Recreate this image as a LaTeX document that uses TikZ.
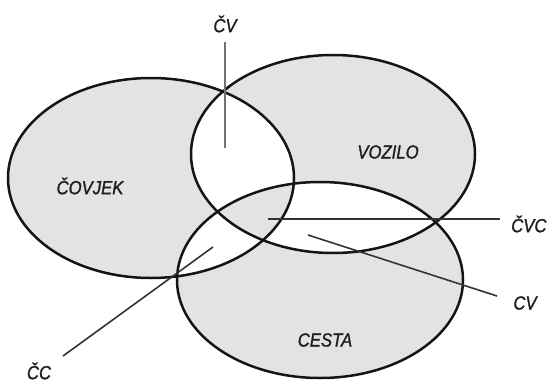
\documentclass[tikz,border=0pt]{standalone}
\usepackage{fontspec}
\setmainfont{Liberation Sans}
\newfontfamily\lblfont[FakeBold=1.3, FakeStretch=0.88]{Liberation Sans}
\begin{document}
\begin{tikzpicture}[x=1pt,y=-1pt,
  setfill/.style={fill=black!11, even odd rule},
  setline/.style={draw=black!92, line width=2.5pt},
  leader/.style={draw=black!80, line width=1.6pt},
  lbl/.style={font=\lblfont\fontsize{19}{19}\selectfont\itshape, text=black!88, inner sep=0pt}]
\useasboundingbox (0,0) rectangle (553,385);
% regions: gray where an odd number of sets overlap
\path[setfill] (151,178) ellipse [x radius=143, y radius=100]
               (333,154) ellipse [x radius=142, y radius=99]
               (320,280) ellipse [x radius=143, y radius=98];
\draw[setline] (151,178) ellipse [x radius=143, y radius=100];
\draw[setline] (333,154) ellipse [x radius=142, y radius=99];
\draw[setline] (320,280) ellipse [x radius=143, y radius=98];
% set labels
\node[lbl] (covjek) at (90,186) {ČOVJEK};
\node[lbl] (vozilo) at (388,152) {VOZILO};
\node[lbl] (cesta) at (325,340) {CESTA};
% intersection labels
\node[lbl] (cv) at (225,24) {ČV};
\node[lbl, anchor=west] (cvc) at (511,224) {ČVC};
\node[lbl] (cvb) at (525,303) {CV};
\node[lbl] (cc) at (39,371) {ČC};
% leader lines
\coordinate (cvin) at (225,148);
\coordinate (cvout) at (225,42);
\coordinate (cvcin) at (268,219);
\coordinate (cvcout) at (500,219);
\coordinate (cvbin) at (308,235);
\coordinate (cvbout) at (497,296);
\coordinate (ccin) at (213,247);
\coordinate (ccout) at (63,356);
\draw[leader, draw=black!55] (cvout) -- (cvin);
\draw[leader] (cvcin) -- (cvcout);
\draw[leader] (cvbin) -- (cvbout);
\draw[leader] (ccin) -- (ccout);
\end{tikzpicture}
\end{document}
